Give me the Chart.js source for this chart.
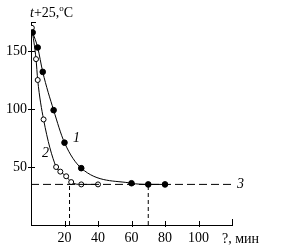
<!DOCTYPE html>
<html>
<head>
<meta charset="utf-8">
<script src="https://cdn.jsdelivr.net/npm/chart.js@4/dist/chart.umd.min.js"></script>
<style>
  html, body { margin: 0; padding: 0; background: #fff; }
  #wrap { width: 283px; height: 250px; }
</style>
</head>
<body>
<div id="wrap"><canvas id="chart" width="283" height="250"></canvas></div>
<script>
// Curve 1 (filled markers)
const curve1Time = [1, 4, 7, 13.5, 20, 30, 60, 70, 80];
const curve1Temp = [166, 153, 132, 99, 71, 49, 36, 35, 35];

// Curve 2 (open markers)
const curve2Time = [0.5, 3, 4, 7.5, 15, 17.5, 21, 24, 30, 40];
const curve2Temp = [170, 143, 125, 91, 50, 46, 42, 37, 35, 35];

// Level 3 and the two reading lines
const level3 = 35;
const readTimes = [23, 70];

const xTicks = [20, 40, 60, 80, 100];
const yTicks = [50, 100, 150];

const serif = '"Liberation Serif", "Times New Roman", serif';

const toPoints = (xs, ys) => xs.map((x, i) => ({ x: x, y: ys[i] }));

const datasets = [
    {
        data: [{ x: 0, y: level3 }, { x: 120, y: level3 }],
        showLine: true,
        borderColor: '#000',
        borderWidth: 1,
        borderDash: [8, 4],
        pointRadius: 0
    },
    ...readTimes.map(t => ({
        data: [{ x: t, y: 0 }, { x: t, y: level3 }],
        showLine: true,
        borderColor: '#000',
        borderWidth: 1,
        borderDash: [4, 3],
        pointRadius: 0
    })),
    {
        data: toPoints(curve1Time, curve1Temp),
        showLine: true,
        borderColor: '#000',
        borderWidth: 1,
        cubicInterpolationMode: 'monotone',
        pointRadius: 2.8,
        pointBackgroundColor: '#000',
        pointBorderColor: '#000',
        pointBorderWidth: 1
    },
    {
        data: toPoints(curve2Time, curve2Temp),
        showLine: true,
        borderColor: '#000',
        borderWidth: 1,
        cubicInterpolationMode: 'monotone',
        pointRadius: 2.5,
        pointBackgroundColor: '#fff',
        pointBorderColor: '#000',
        pointBorderWidth: 1
    }
];

// tick marks crossing the axes, curve numbers and axis captions
const decorations = {
    id: 'decorations',
    afterDraw(chart) {
        const ctx = chart.ctx;
        const xs = chart.scales.x;
        const ys = chart.scales.y;
        const area = chart.chartArea;
        ctx.save();
        ctx.strokeStyle = '#000';
        ctx.lineWidth = 1;
        ctx.beginPath();
        xTicks.forEach(v => {
            const px = Math.round(xs.getPixelForValue(v)) + 0.5;
            ctx.moveTo(px, area.bottom - 4);
            ctx.lineTo(px, area.bottom + 2);
        });
        const pxEnd = Math.round(xs.getPixelForValue(120)) + 0.5;
        ctx.moveTo(pxEnd, area.bottom - 6);
        ctx.lineTo(pxEnd, area.bottom);
        yTicks.forEach(v => {
            const py = Math.round(ys.getPixelForValue(v)) + 0.5;
            ctx.moveTo(area.left - 3, py);
            ctx.lineTo(area.left + 4, py);
        });
        const pyTop = Math.round(ys.getPixelForValue(175)) + 0.5;
        ctx.moveTo(area.left, pyTop);
        ctx.lineTo(area.left + 5, pyTop);
        ctx.stroke();

        ctx.fillStyle = '#000';
        ctx.textBaseline = 'middle';
        ctx.font = 'italic 14px ' + serif;
        ctx.fillText('1', xs.getPixelForValue(25), ys.getPixelForValue(75));
        ctx.fillText('2', xs.getPixelForValue(6.5), ys.getPixelForValue(62));
        ctx.fillText('3', xs.getPixelForValue(123), ys.getPixelForValue(level3));

        // y caption
        let x = 30;
        const y = 13;
        ctx.font = 'italic 14px ' + serif;
        ctx.fillText('t', x, y);
        x += ctx.measureText('t').width;
        ctx.font = '14px ' + serif;
        ctx.fillText('+25,', x, y);
        x += ctx.measureText('+25,').width;
        ctx.font = '9px ' + serif;
        ctx.fillText('o', x, y - 4);
        x += ctx.measureText('o').width;
        ctx.font = '14px ' + serif;
        ctx.fillText('C', x, y);

        // x caption
        ctx.fillText('?, мин', 222, 239);
        ctx.restore();
    }
};

new Chart(document.getElementById('chart'), {
    type: 'scatter',
    data: { datasets: datasets },
    options: {
        responsive: false,
        animation: false,
        layout: { padding: { top: 22, right: 51, left: 0, bottom: 0 } },
        plugins: {
            legend: { display: false },
            tooltip: { enabled: false }
        },
        scales: {
            x: {
                type: 'linear',
                min: 0,
                max: 120,
                grid: { display: true, drawOnChartArea: false, drawTicks: false },
                border: { display: true, color: '#000', width: 1 },
                afterFit: s => { s.height = 25; },
                afterBuildTicks: s => { s.ticks = xTicks.map(v => ({ value: v })); },
                ticks: {
                    color: '#000',
                    padding: 5,
                    maxRotation: 0,
                    font: { family: serif, size: 14 }
                }
            },
            y: {
                min: 0,
                max: 175,
                grid: { display: true, drawOnChartArea: false, drawTicks: false },
                border: { display: true, color: '#000', width: 1 },
                afterFit: s => { s.width = 31; },
                afterBuildTicks: s => { s.ticks = yTicks.map(v => ({ value: v })); },
                ticks: {
                    color: '#000',
                    padding: 4,
                    font: { family: serif, size: 14 }
                }
            }
        }
    },
    plugins: [decorations]
});
</script>
</body>
</html>
